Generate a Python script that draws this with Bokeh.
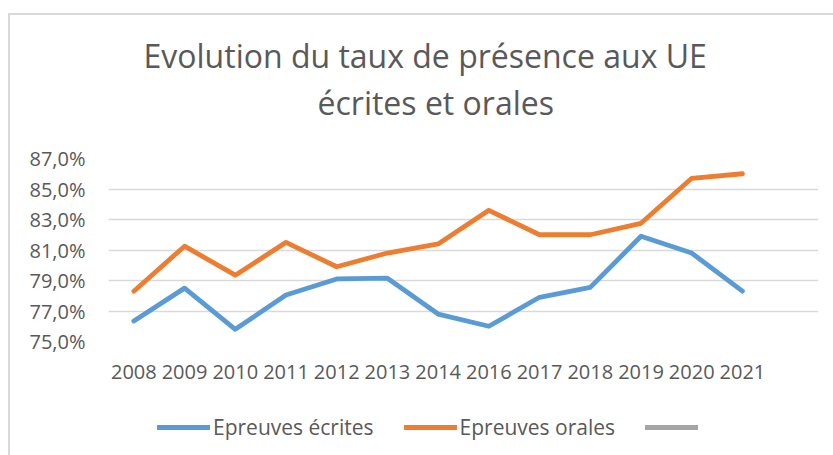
from bokeh.plotting import figure
from bokeh.layouts import column
from bokeh.models import (FactorRange, Range1d, FixedTicker, Legend, LegendItem, Title)
from bokeh.embed import file_html
from bokeh.resources import INLINE

years = ["2008", "2009", "2010", "2011", "2012", "2013", "2014", "2016",
         "2017", "2018", "2019", "2020", "2021"]
ecrites = [76.35, 78.5, 75.8, 78.05, 79.1, 79.15, 76.8, 76.0, 77.9, 78.55, 81.9, 80.8, 78.3]
orales = [78.3, 81.25, 79.35, 81.5, 79.9, 80.8, 81.4, 83.6, 82.0, 82.0, 82.75, 85.7, 86.0]
serie3 = [float("nan")] * len(years)   # third (empty) series shown only in the legend
y_ticks = [75, 77, 79, 81, 83, 85, 87]
y_tick_labels = ["75,0%", "77,0%", "79,0%", "81,0%", "83,0%", "85,0%", "87,0%"]
title_lines = ["Evolution du taux de présence aux UE", "écrites et orales"]
series_names = ["Epreuves écrites", "Epreuves orales", "\u00a0"]

FONT = "Open Sans"
TXT = "#595959"
COLORS = ["#5B9BD5", "#ED7D31", "#A5A5A5"]
series = [ecrites, orales, serie3]

factors = years + [" "]
p = figure(width=833, height=400, frame_width=710, frame_height=183,
           x_range=FactorRange(factors=factors, range_padding=0, factor_padding=0),
           y_range=Range1d(75, 87), output_backend="svg", toolbar_location=None,
           min_border_left=108, min_border_right=15, min_border_top=158, min_border_bottom=59)
p.title = None
p.outline_line_color = None
p.background_fill_color = "white"
p.border_fill_color = None
# chart-area border: top and left edges (drawn behind the transparent canvas border)
p.styles = {"box-shadow": "inset 8px 13px 0 0 #ffffff, inset 10px 15px 0 0 #d9d9d9"}

p.xgrid.grid_line_color = None
p.ygrid.grid_line_color = "#d9d9d9"
p.ygrid.grid_line_width = 1.3

p.yaxis.ticker = FixedTicker(ticks=y_ticks)
p.yaxis.major_label_overrides = {t: l for t, l in zip(y_ticks, y_tick_labels)}
for ax in (p.xaxis[0], p.yaxis[0]):
    ax.axis_line_color = None
    ax.major_tick_line_color = None
    ax.minor_tick_line_color = None
    ax.major_tick_in = 0
    ax.major_tick_out = 0
    ax.minor_tick_in = 0
    ax.minor_tick_out = 0
    ax.major_label_text_font = FONT
    ax.major_label_text_font_size = "20px"
    ax.major_label_text_color = TXT
p.yaxis.major_label_standoff = 23
p.xaxis.major_label_standoff = 16

for vals, col in zip(series, COLORS):
    p.line(years, vals, line_color=col, line_width=4.8, line_join="round", line_cap="round")

t2 = Title(text=title_lines[1], align="left", offset=209, standoff=69, text_font=FONT,
           text_font_size="32px", text_color=TXT, text_font_style="normal")
t1 = Title(text=title_lines[0], align="left", offset=35, standoff=-64, text_font=FONT,
           text_font_size="32px", text_color=TXT, text_font_style="normal")
p.add_layout(t2, "above")
p.add_layout(t1, "above")

# legend strip below the chart (same series, drawn out of view; only the legend shows)
pl = figure(width=833, height=55, x_range=FactorRange(factors=factors, range_padding=0, factor_padding=0),
            y_range=Range1d(0, 1), output_backend="svg", toolbar_location=None,
            x_axis_location=None, y_axis_location=None,
            min_border_left=0, min_border_right=0, min_border_top=0, min_border_bottom=0)
pl.title = None
pl.grid.visible = False
pl.outline_line_color = None
pl.background_fill_color = None
pl.border_fill_color = None
pl.styles = {"box-shadow": "inset 8px 0 0 0 #ffffff, inset 10px 0 0 0 #d9d9d9"}

leg_renderers = [pl.line(years, vals, line_color=col, line_width=4.8, line_cap="round")
                 for vals, col in zip(series, COLORS)]
legend = Legend(items=[LegendItem(label=n, renderers=[r]) for n, r in zip(series_names, leg_renderers)],
                location=(49, 14), orientation="horizontal", padding=0, margin=0,
                spacing=30, glyph_width=53, glyph_height=20, label_standoff=3,
                label_text_font=FONT, label_text_font_size="21px", label_text_color=TXT,
                border_line_color=None, background_fill_alpha=0)
pl.add_layout(legend, "center")

layout = column(p, pl, spacing=0)
open("out.html", "w").write(file_html(layout, INLINE))
